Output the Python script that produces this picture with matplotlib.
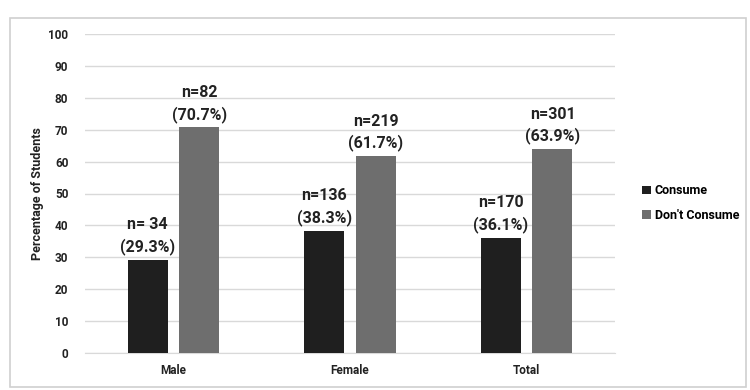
import numpy as np
import matplotlib.pyplot as plt
from matplotlib.patches import Rectangle

# data
categories = ["Male", "Female", "Total"]
consume_pct = [29.3, 38.3, 36.1]
dont_pct = [70.7, 61.7, 63.9]
consume_n = ["n= 34", "n=136", "n=170"]
dont_n = ["n=82", "n=219", "n=301"]

plt.rcParams["font.family"] = ["Roboto", "DejaVu Sans"]

fig = plt.figure(figsize=(7.5, 3.9), dpi=100)
ax = fig.add_axes([85 / 750, 1 - 353 / 390, 530 / 750, 319 / 390])

# outer border
fig.patches.append(Rectangle((10 / 750, 1 - 387 / 390), 736 / 750, 369 / 390,
                             transform=fig.transFigure, fill=False,
                             edgecolor="#d0d0d0", linewidth=1.2))

x = np.arange(len(categories))
w = 0.226
off = 0.146

b1 = ax.bar(x - off, consume_pct, w, color="#1f1f1f", label="Consume", zorder=3)
b2 = ax.bar(x + off, dont_pct, w, color="#6e6e6e", label="Don't Consume", zorder=3)

for i in range(len(categories)):
    ax.text(x[i] - off, consume_pct[i] + 1.5, f"{consume_n[i]}\n({consume_pct[i]}%)",
            ha="center", va="bottom", fontsize=11.5, fontweight="semibold",
            color="#222222", linespacing=1.45)
    ax.text(x[i] + off, dont_pct[i] + 1.5, f"{dont_n[i]}\n({dont_pct[i]}%)",
            ha="center", va="bottom", fontsize=11.5, fontweight="semibold",
            color="#222222", linespacing=1.45)

ax.set_xlim(-0.5, 2.5)
ax.set_ylim(0, 100)
ax.set_yticks(range(0, 101, 10))
ax.set_xticks(x)
ax.set_xticklabels(categories)
ax.tick_params(axis="both", length=0, labelsize=8.5, colors="#222222")
ax.tick_params(axis="y", pad=12)
ax.tick_params(axis="x", pad=8)
for lab in ax.get_yticklabels() + ax.get_xticklabels():
    lab.set_fontweight("semibold")

ax.grid(axis="y", color="#d9d9d9", linewidth=1, zorder=0)
for s in ["top", "right", "left"]:
    ax.spines[s].set_visible(False)
ax.spines["bottom"].set_color("#d9d9d9")

ax.set_ylabel("Percentage of Students", fontsize=9, fontweight="semibold", color="#222222")
ax.yaxis.set_label_coords(-0.078, 0.5)

leg = ax.legend(loc="center left", bbox_to_anchor=(1.03, 0.47), frameon=False,
                fontsize=9, handlelength=0.7, handleheight=0.7, handletextpad=0.3,
                labelspacing=0.9, prop={"size": 9, "weight": "semibold"})

fig.savefig("out.png", dpi=100)
